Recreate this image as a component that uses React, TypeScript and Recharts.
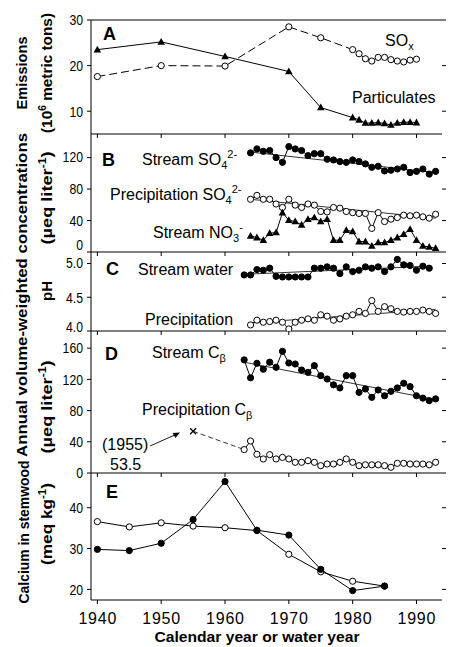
import { Line, LineChart, ReferenceLine, XAxis, YAxis } from "recharts";
import type { ReactNode } from "react";

const NARROW = '"Liberation Sans Narrow", "Liberation Sans", Arial, sans-serif';
const SANS = '"Liberation Sans", Arial, sans-serif';

const decades = [1940, 1950, 1960, 1970, 1980, 1990];

// A: emissions (10^6 metric tons)
const emissionYears = [1940, 1950, 1960, 1970, 1975, 1980, 1981, 1982, 1983, 1984, 1985, 1986, 1987, 1988, 1989, 1990];
const particulates = [23.5, 25.2, 22.0, 18.7, 10.8, 8.6, 8.1, 7.4, 7.4, 7.5, 7.3, 7.0, 7.4, 7.6, 7.6, 7.5];
const sox = [17.6, 20.0, 19.9, 28.5, 26.1, 23.5, 22.6, 21.5, 21.0, 21.8, 21.8, 21.3, 21.0, 20.8, 21.2, 21.4];

// B: concentrations (µeq/L), water years
const years64to93 = [1964, 1965, 1966, 1967, 1968, 1969, 1970, 1971, 1972, 1973, 1974, 1975, 1976, 1977, 1978, 1979, 1980, 1981, 1982, 1983, 1984, 1985, 1986, 1987, 1988, 1989, 1990, 1991, 1992, 1993];
const streamSO4 = [126, 131, 128, 129, 120, 114, 134, 131, 129, 122.5, 125, 125, 118, 117, 115, 114, 117, 115, 112, 107.7, 109, 103, 104, 105.5, 107.7, 101, 102.5, 105.5, 99, 102.5];
const precipSO4 = [67, 72, 67, 67, 61, 56.6, 67, 59.6, 56.6, 61, 59.6, 51.5, 51, 56.6, 55.7, 51.5, 50, 49, 49, 30, 50, 38.7, 41.7, 43.8, 46.8, 46, 46.8, 44.7, 43, 48];
const streamNO3 = [20.4, 18.3, 15, 23.8, 24.7, 50, 40.4, 38.7, 34.5, 41.7, 43.8, 38.7, 41.7, 15, 15, 27.7, 26, 13.2, 13.2, 7.7, 12, 12, 15, 18.3, 22.5, 29, 15, 7.7, 6.4, 4.7];
const trendYearsB = [1964, 1993];
const streamSO4Trend = [127, 101];
const precipSO4Trend = [67, 43];

// C: pH
const years63to92 = [1963, 1964, 1965, 1966, 1967, 1968, 1969, 1970, 1971, 1972, 1973, 1974, 1975, 1976, 1977, 1978, 1979, 1980, 1981, 1982, 1983, 1984, 1985, 1986, 1987, 1988, 1989, 1990, 1991, 1992];
const streamPH = [4.83, 4.83, 4.91, 4.9, 4.93, 4.81, 4.8, 4.8, 4.8, 4.8, 4.8, 4.93, 4.93, 4.95, 4.93, 4.85, 4.95, 4.88, 4.9, 4.95, 4.93, 4.95, 4.88, 4.95, 5.06, 4.98, 4.97, 4.9, 4.96, 4.93];
const precipPH = [4.09, 4.16, 4.13, 4.14, 4.16, 4.13, 4.03, 4.13, 4.16, 4.18, 4.16, 4.24, 4.22, 4.16, 4.18, 4.22, 4.24, 4.29, 4.26, 4.45, 4.29, 4.36, 4.33, 4.29, 4.28, 4.29, 4.29, 4.31, 4.29, 4.26];
const streamPHTrendYears = [1963, 1992];
const streamPHTrend = [4.84, 4.96];
const precipPHTrend = [4.12, 4.32];

// D: base cations (µeq/L)
const years63to93 = [1963, 1964, 1965, 1966, 1967, 1968, 1969, 1970, 1971, 1972, 1973, 1974, 1975, 1976, 1977, 1978, 1979, 1980, 1981, 1982, 1983, 1984, 1985, 1986, 1987, 1988, 1989, 1990, 1991, 1992, 1993];
const streamCB = [145, 122, 140.6, 133, 142, 135.5, 156, 141, 139.7, 132, 129, 137.6, 124.8, 120.5, 113, 109, 124.8, 124.8, 103.4, 107.7, 97, 106.4, 99, 104.7, 109, 115, 110.7, 99, 96, 92.7, 95];
const precipCB = [30, 41, 24, 18, 23.5, 18, 20, 18, 13.7, 13.7, 15.8, 13.7, 9.4, 11.5, 11.5, 13.7, 18, 13.7, 9.4, 10.5, 10.5, 10.5, 9.4, 7.3, 12.4, 12.4, 11.5, 11.5, 11.5, 10.5, 13.7];
const streamCBTrendYears = [1963, 1993];
const streamCBTrend = [142, 94];
const precipCBEarlyYears = [1955, 1963];
const precipCBEarly = [53.5, 30];

// E: calcium in stemwood (meq/kg)
const woodYears = [1940, 1945, 1950, 1955, 1960, 1965, 1970, 1975, 1980, 1985];
const calciumFilled = [29.8, 29.5, 31.3, 37.1, 46.4, 34.5, 33.3, 24.9, 19.7, 20.8];
const calciumOpen = [36.6, 35.3, 36.3, 35.5, 35.1, 34.4, 28.6, 24.3, 22.0, 20.8];

const pts = (xs: number[], ys: number[]) => xs.map((year, i) => ({ year, v: ys[i] }));

type Kind = "filled" | "open" | "tri" | "cross" | "none";
const makeDot = (kind: Kind) => (p: any) => {
  const { cx, cy, index } = p;
  if (cx == null || cy == null || kind === "none") return <g key={index} />;
  if (kind === "tri")
    return <path key={index} d={`M${cx},${cy - 4}L${cx + 3.8},${cy + 2.8}L${cx - 3.8},${cy + 2.8}Z`} fill="#000" />;
  if (kind === "cross") {
    if (index !== 0) return <g key={index} />;
    return (
      <path key={index} d={`M${cx - 3},${cy - 3}L${cx + 3},${cy + 3}M${cx + 3},${cy - 3}L${cx - 3},${cy + 3}`} stroke="#000" strokeWidth={1.3} />
    );
  }
  return (
    <circle key={index} cx={cx} cy={cy} r={3.1} fill={kind === "filled" ? "#000" : "#fff"} stroke="#000" strokeWidth={1} />
  );
};

const series = (data: { year: number; v: number }[], kind: Kind, extra: any = {}) => (
  <Line
    data={data}
    dataKey="v"
    stroke="#000"
    strokeWidth={1}
    dot={makeDot(kind)}
    activeDot={false}
    isAnimationActive={false}
    {...extra}
  />
);

const PAD = 14;
const nothing = () => null;

// condensed look: squeeze digits to the narrow width of the original face
const labelWidth = (s: string) => s.split("").reduce((w, c) => w + (c === "." ? 3.4 : 6.8), 0);

const YearTick = (p: any) => (
  <text
    x={p.x}
    y={p.y + 18}
    textAnchor="middle"
    fontSize={16}
    fontFamily={NARROW}
    textLength={38}
    lengthAdjust="spacing"
    fill="#000"
  >
    {p.payload.value}
  </text>
);

const makeYTick = (fmt: ((v: number) => string) | undefined, shift: Record<string, number>) => (p: any) => {
  const label = fmt ? fmt(p.payload.value) : String(p.payload.value);
  return (
    <text
      x={p.x}
      y={p.y + (shift[label] ?? 0)}
      dy="0.36em"
      textAnchor="end"
      fontSize={15}
      fontFamily={NARROW}
      textLength={labelWidth(label)}
      lengthAdjust="spacingAndGlyphs"
      fill="#000"
    >
      {label}
    </text>
  );
};

function Panel(props: {
  top: number;
  bottom: number;
  domain: [number, number];
  ticks: number[];
  fmt?: (v: number) => string;
  shift?: Record<string, number>;
  xLabels?: boolean;
  frameTop?: boolean;
  children: ReactNode;
}) {
  const { top, bottom, domain, ticks, fmt, shift, xLabels, frameTop, children } = props;
  const xh = xLabels ? 44 : PAD;
  return (
    <div style={{ position: "absolute", left: 0, top: top - PAD }}>
      <LineChart width={450} height={PAD + bottom - top + xh} margin={{ top: PAD, right: 4, bottom: 0, left: 0 }}>
        <XAxis
          type="number"
          dataKey="year"
          domain={[1939, 1994]}
          allowDataOverflow
          ticks={decades}
          height={xh}
          tickSize={4}
          stroke="#000"
          tick={xLabels ? YearTick : nothing}
        />
        <YAxis
          type="number"
          domain={domain}
          allowDataOverflow
          ticks={ticks}
          width={91}
          tickSize={4}
          tickMargin={4}
          stroke="#000"
          tick={makeYTick(fmt, shift ?? {})}
        />
        <YAxis
          yAxisId="r"
          orientation="right"
          type="number"
          domain={domain}
          allowDataOverflow
          ticks={ticks}
          width={4}
          tickSize={4}
          axisLine={false}
          stroke="#000"
          tick={nothing}
        />
        {frameTop && <ReferenceLine y={domain[1]} stroke="#000" strokeWidth={1} />}
        {children}
      </LineChart>
    </div>
  );
}

const sub = (t: string) => (
  <tspan fontSize={11} dy={4}>
    {t}
  </tspan>
);

export default function App() {
  return (
    <div
      style={{
        position: "absolute",
        left: 0,
        top: 0,
        width: 450,
        height: 647,
        background: "#fff",
        fontFamily: SANS,
      }}
    >
      <Panel top={20} bottom={134} domain={[5, 30]} ticks={[10, 20, 30]} frameTop>
        {series(pts(emissionYears, particulates), "tri")}
        {series(pts(emissionYears, sox), "open", { strokeDasharray: "8 4" })}
      </Panel>
      <Panel top={134} bottom={252} domain={[0, 150]} ticks={[0, 40, 80, 120]} shift={{ "0": -7, "120": -1 }}>
        {series(pts(trendYearsB, streamSO4Trend), "none", { strokeWidth: 0.8 })}
        {series(pts(trendYearsB, precipSO4Trend), "none", { strokeWidth: 0.8 })}
        {series(pts(years64to93, streamSO4), "filled")}
        {series(pts(years64to93, precipSO4), "open")}
        {series(pts(years64to93, streamNO3), "tri")}
      </Panel>
      <Panel
        top={252}
        bottom={331}
        domain={[4, 5.17]}
        ticks={[4, 4.5, 5]}
        fmt={(v) => v.toFixed(1)}
        shift={{ "5.0": -1, "4.0": -4 }}
      >
        {series(pts(streamPHTrendYears, streamPHTrend), "none", { strokeWidth: 0.8 })}
        {series(pts(trendYearsB, precipPHTrend), "none", { strokeWidth: 0.8 })}
        {series(pts(years63to92, streamPH), "filled")}
        {series(pts(years64to93, precipPH), "open")}
      </Panel>
      <Panel top={331} bottom={473} domain={[0, 182]} ticks={[0, 40, 80, 120, 160]} shift={{ "160": -1 }}>
        {series(pts(streamCBTrendYears, streamCBTrend), "none", { strokeWidth: 0.8 })}
        {series(pts(precipCBEarlyYears, precipCBEarly), "cross", { strokeDasharray: "5 3", strokeWidth: 0.8 })}
        {series(pts(years63to93, streamCB), "filled")}
        {series(pts(years63to93, precipCB), "open")}
      </Panel>
      <Panel top={473} bottom={600} domain={[17.4, 48.5]} ticks={[20, 30, 40]} xLabels>
        {series(pts(woodYears, calciumOpen), "open")}
        {series(pts(woodYears, calciumFilled), "filled")}
      </Panel>

      <svg
        width={450}
        height={647}
        style={{ position: "absolute", left: 0, top: 0, pointerEvents: "none" }}
        fontFamily={SANS}
        fill="#000"
      >
        {/* rotated axis titles */}
        <g fontWeight="bold" fontSize={15} textAnchor="middle">
          <text transform="translate(27,73) rotate(-90)" textLength={73} lengthAdjust="spacingAndGlyphs">
            Emissions
          </text>
          <text transform="translate(52,73) rotate(-90)" textLength={120} lengthAdjust="spacingAndGlyphs">
            (10<tspan fontSize={10} dy={-6}>6</tspan>
            <tspan dy={6}> metric tons)</tspan>
          </text>
          <text transform="translate(27,295) rotate(-90)" textLength={324} lengthAdjust="spacingAndGlyphs">
            Annual volume-weighted concentrations
          </text>
          <text transform="translate(52,198) rotate(-90)" textLength={93} lengthAdjust="spacingAndGlyphs">
            (µeq liter<tspan fontSize={10} dy={-6}>-1</tspan>
            <tspan dy={6}>)</tspan>
          </text>
          <text transform="translate(52,291) rotate(-90)">pH</text>
          <text transform="translate(52,407) rotate(-90)" textLength={93} lengthAdjust="spacingAndGlyphs">
            (µeq liter<tspan fontSize={10} dy={-6}>-1</tspan>
            <tspan dy={6}>)</tspan>
          </text>
          <text transform="translate(29,532) rotate(-90)" textLength={143} lengthAdjust="spacingAndGlyphs">
            Calcium in stemwood
          </text>
          <text transform="translate(52,524) rotate(-90)" textLength={82} lengthAdjust="spacingAndGlyphs">
            (meq kg<tspan fontSize={10} dy={-6}>-1</tspan>
            <tspan dy={6}>)</tspan>
          </text>
          <text x={257} y={642} fontSize={14} textLength={205} lengthAdjust="spacingAndGlyphs">
            Calendar year or water year
          </text>
        </g>

        {/* panel letters */}
        <g fontWeight="bold" fontSize={18}>
          <text x={103} y={40}>A</text>
          <text x={102} y={166}>B</text>
          <text x={106} y={275}>C</text>
          <text x={105} y={360}>D</text>
          <text x={106} y={498}>E</text>
        </g>

        {/* series annotations */}
        <g fontSize={16}>
          <text x={385} y={46}>
            SO{sub("x")}
          </text>
          <text x={352} y={103}>Particulates</text>
          <text x={142} y={165}>
            Stream SO{sub("4")}
            <tspan fontSize={11} dy={-11}>2-</tspan>
          </text>
          <text x={110} y={200}>
            Precipitation SO{sub("4")}
            <tspan fontSize={11} dy={-11}>2-</tspan>
          </text>
          <text x={153} y={238}>
            Stream NO{sub("3")}
            <tspan fontSize={11} dy={-11}>-</tspan>
          </text>
          <text x={138} y={275}>Stream water</text>
          <text x={145} y={325}>Precipitation</text>
          <text x={152} y={358}>
            Stream C{sub("β")}
          </text>
          <text x={142} y={415}>
            Precipitation C{sub("β")}
          </text>
          <text x={102} y={450}>(1955)</text>
          <text x={110} y={470}>53.5</text>
        </g>
        <line x1={150} y1={446} x2={177} y2={434} stroke="#000" strokeWidth={0.9} />
        <path d="M180,432.5 L172.5,433 L175.5,438 Z" fill="#000" />
      </svg>
    </div>
  );
}
